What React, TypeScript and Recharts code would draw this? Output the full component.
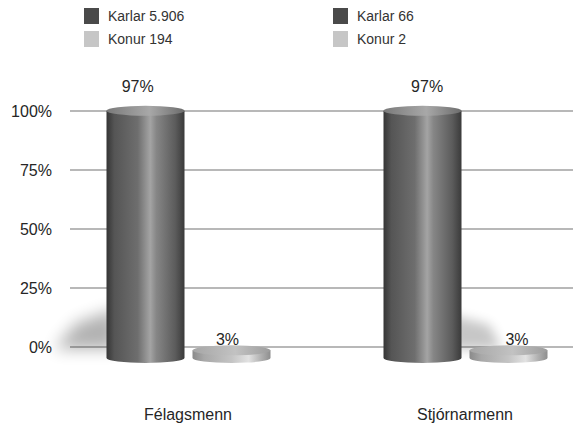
import { BarChart, Bar, XAxis, YAxis, CartesianGrid, LabelList } from 'recharts';

// Gögn lesin af myndinni
const flokkar = ['Félagsmenn', 'Stjórnarmenn'];
const karlarHlutfall = [97, 97];
const konurHlutfall = [3, 3];
const karlarFjoldi = ['5.906', '66'];
const konurFjoldi = ['194', '2'];
const yTicks = [0, 25, 50, 75, 100];

const gogn = flokkar.map((nafn, i) => ({
  nafn,
  karlar: karlarHlutfall[i],
  konur: konurHlutfall[i],
}));

const LETUR = '"Liberation Sans", Arial, sans-serif';
const DOKKUR = '#4a4a4a';
const LJOS = '#c6c6c6';

// 3D-framhlið: súlur færðar aðeins niður og teygðar (fjarvídd)
const DYPT = 11;
const KVARDI = 1.08;
const RY = 5;

const litir = {
  karlar: {
    hlid: [
      ['0%', '#353535'],
      ['10%', '#555555'],
      ['40%', '#6e6e6e'],
      ['56%', '#a4a4a4'],
      ['64%', '#868686'],
      ['88%', '#5c5c5c'],
      ['100%', '#3a3a3a'],
    ],
    toppur: ['#7a7a7a', '#a8a8a8', '#6c6c6c'],
  },
  konur: {
    hlid: [
      ['0%', '#8a8a8a'],
      ['15%', '#a8a8a8'],
      ['50%', '#c4c4c4'],
      ['72%', '#e2e2e2'],
      ['88%', '#b0b0b0'],
      ['100%', '#8e8e8e'],
    ],
    toppur: ['#a6a6a6', '#c2c2c2', '#9c9c9c'],
  },
};

const Sivalningur = (props: any) => {
  const { x, y, width, height, index, rod } = props;
  if (x == null || y == null) return null;
  const lit = (litir as any)[rod];
  const base = y + height;
  const top = base + DYPT - KVARDI * height;
  const bot = base + DYPT;
  const rx = width / 2;
  const cx = x + rx;
  const gid = `hlid-${rod}-${index}`;
  const tid = `topp-${rod}-${index}`;
  const sid = `skuggi-${rod}-${index}`;
  const vinstri = index === 0;
  // skuggi á gólfinu, vinstra megin í fyrri flokki og hægra megin í seinni
  const skuggi = vinstri
    ? `M${x + 10},${base - 38} L${x + 10},${base + 2} L${x - 52},${base + 2} L${x - 30},${base - 24} Z`
    : `M${x + width - 10},${base - 32} L${x + width + 28},${base - 22} L${x + width + 40},${base + 2} L${x + width - 10},${base + 2} Z`;
  return (
    <g>
      <defs>
        <linearGradient id={gid} x1="0" y1="0" x2="1" y2="0">
          {lit.hlid.map(([o, c]: string[]) => (
            <stop key={o} offset={o} stopColor={c} />
          ))}
        </linearGradient>
        <linearGradient id={tid} x1="0" y1="0" x2="1" y2="0">
          <stop offset="0%" stopColor={lit.toppur[0]} />
          <stop offset="55%" stopColor={lit.toppur[1]} />
          <stop offset="100%" stopColor={lit.toppur[2]} />
        </linearGradient>
        <filter id={sid} x="-100%" y="-100%" width="300%" height="300%">
          <feGaussianBlur stdDeviation={vinstri ? 8 : 6} />
        </filter>
      </defs>
      {rod === 'karlar' && (
        <path d={skuggi} fill="#000" opacity={vinstri ? 0.3 : 0.22} filter={`url(#${sid})`} />
      )}
      <path
        d={`M${x},${top} L${x},${bot} A${rx},${RY} 0 0 0 ${x + width},${bot} L${x + width},${top} Z`}
        fill={`url(#${gid})`}
      />
      <ellipse cx={cx} cy={top} rx={rx} ry={RY} fill={`url(#${tid})`} />
    </g>
  );
};

const Merki = (props: any) => {
  const { x, y, width, height, value } = props;
  const base = y + height;
  const cx = x + width / 2;
  const lx = cx + 0.045 * (cx - 320);
  const ly = base + 6 - 1.14 * height;
  return (
    <text x={lx} y={ly} textAnchor="middle" fontSize={16} fill="#262626" fontFamily={LETUR}>
      {`${value}%`}
    </text>
  );
};

const Skyring = () => {
  const dalkar = flokkar.map((_, i) => [
    { texti: `Karlar ${karlarFjoldi[i]}`, litur: DOKKUR },
    { texti: `Konur ${konurFjoldi[i]}`, litur: LJOS },
  ]);
  return (
    <div style={{ position: 'absolute', left: 0, top: 0, width: 573, height: 60, fontFamily: LETUR }}>
      {dalkar.map((dalkur, i) => (
        <div key={i} style={{ position: 'absolute', left: 84 + i * 249, top: 8 }}>
          {dalkur.map((f, j) => (
            <div key={j} style={{ display: 'flex', alignItems: 'center', height: 16, marginBottom: 7 }}>
              <div style={{ width: 15, height: 16, background: f.litur }} />
              <span style={{ marginLeft: 9, fontSize: 14, color: '#333' }}>{f.texti}</span>
            </div>
          ))}
        </div>
      ))}
    </div>
  );
};

export default function App() {
  return (
    <div style={{ position: 'absolute', left: 0, top: 0, width: 573, height: 425, background: '#fff', overflow: 'hidden' }}>
      <BarChart
        width={573}
        height={425}
        data={gogn}
        margin={{ top: 111, right: 0, bottom: 0, left: 0 }}
        barSize={78}
        barGap={8}
      >
        <CartesianGrid horizontal vertical={false} stroke="#b8b8b8" strokeWidth={2} />
        <XAxis
          dataKey="nafn"
          height={78}
          axisLine={false}
          tickLine={false}
          tickSize={0}
          tickMargin={62}
          padding={{ left: -20.5, right: -30.5 }}
          tick={{ fontSize: 16, fill: '#262626', fontFamily: LETUR }}
        />
        <YAxis
          width={70}
          domain={[0, 100]}
          ticks={yTicks}
          axisLine={false}
          tickLine={false}
          tickSize={0}
          tickMargin={18}
          tickFormatter={(v) => `${v}%`}
          tick={{ fontSize: 16, fill: '#262626', fontFamily: LETUR }}
        />
        <Bar dataKey="karlar" fill={DOKKUR} isAnimationActive={false} shape={(p: any) => <Sivalningur {...p} rod="karlar" />}>
          <LabelList dataKey="karlar" content={Merki} />
        </Bar>
        <Bar dataKey="konur" fill={LJOS} isAnimationActive={false} shape={(p: any) => <Sivalningur {...p} rod="konur" />}>
          <LabelList dataKey="konur" content={Merki} />
        </Bar>
      </BarChart>
      <Skyring />
    </div>
  );
}
